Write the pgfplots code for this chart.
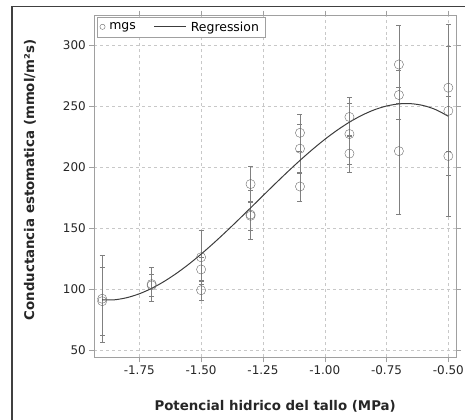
\documentclass[border=0pt]{standalone}
\usepackage{pgfplots}
\pgfplotsset{compat=1.18}
\usepackage{fontspec}
\setmainfont{DejaVu Sans}
\definecolor{grd}{HTML}{C8C8C8}
\definecolor{frm}{HTML}{A0A0A0}
\definecolor{pt}{HTML}{6A6A6A}
\definecolor{crv}{HTML}{3C3C3C}
\begin{document}
\begin{tikzpicture}
\useasboundingbox (-94.3bp,-62.7bp) rectangle (370.7bp,357.3bp);
\draw[color=black!75, line width=1.2bp] (-82.3bp,-62.7bp) -- (-82.3bp,350.6bp) -- (370.7bp,350.6bp);
\begin{axis}[
  scale only axis,
  width=361.7bp, height=341.6bp,
  xmin=-1.932, xmax=-0.469,
  ymin=44, ymax=324,
  xtick={-1.75,-1.5,-1.25,-1,-0.75,-0.5},
  xticklabels={-1.75,-1.50,-1.25,-1.00,-0.75,-0.50},
  ytick={50,100,150,200,250,300},
  /pgf/number format/assume math mode=true,
  tick label style={font=\fontsize{12}{14}\selectfont, text=black!85},
  tick align=outside,
  major tick length=5bp,
  tick style={color=frm, thin},
  axis line style={color=frm, line width=0.8pt},
  grid=major,
  major grid style={color=grd, dashed, thin},
  xlabel={Potencial hidrico del tallo (MPa)},
  ylabel={Conductancia estomatica (mmol/m²s)},
  label style={font=\bfseries\fontsize{13.4}{15}\selectfont, text=black!85},
  xlabel style={at={(axis description cs:0.5,-0.1426)}, anchor=center},
  ylabel style={at={(axis description cs:-0.1778,0.519)}, anchor=center},
  legend columns=2,
  legend style={at={(axis description cs:0.0075,0.996)}, anchor=north west,
    draw=frm, fill=white, font=\fontsize{12.5}{14}\selectfont, inner sep=2.5bp,
    nodes={inner xsep=4bp},
    /tikz/every even column/.append style={column sep=14bp}},
  legend cell align=left,
  clip=false,
]
\addplot[only marks, mark=o, mark size=4.6bp, color=pt, mark options={thin}, forget plot,
  error bars/.cd, y dir=both, y explicit,
  error bar style={color=pt!85, thin},
  error mark options={rotate=90, mark size=2.5bp, color=pt!85, thin}]
coordinates {
(-1.9,92) +- (0,36)
(-1.9,90) +- (0,28)
(-1.7,104) +- (0,14)
(-1.7,103) +- (0,9)
(-1.5,126) +- (0,22)
(-1.5,116) +- (0,10)
(-1.5,99) +- (0,8)
(-1.3,186) +- (0,15)
(-1.3,161) +- (0,20)
(-1.3,160) +- (0,12)
(-1.1,228) +- (0,15)
(-1.1,215) +- (0,20)
(-1.1,184) +- (0,12)
(-0.9,241) +- (0,16)
(-0.9,227) +- (0,25)
(-0.9,211) +- (0,15)
(-0.7,284) +- (0,32)
(-0.7,259) +- (0,20)
(-0.7,213) +- (0,52)
(-0.5,265) +- (0,52)
(-0.5,246) +- (0,53)
(-0.5,209) +- (0,49)
};
\addplot[color=crv, line width=1pt, smooth, no marks, forget plot] coordinates {
(-1.90,91.00) (-1.85,91.15) (-1.80,92.89) (-1.75,96.05) (-1.70,100.50)
(-1.65,106.12) (-1.60,112.76) (-1.55,120.28) (-1.50,128.56) (-1.45,137.45)
(-1.40,146.82) (-1.35,156.53) (-1.30,166.44) (-1.25,176.42) (-1.20,186.33)
(-1.15,196.04) (-1.10,205.41) (-1.05,214.30) (-1.00,222.58) (-0.95,230.10)
(-0.90,236.74) (-0.85,242.36) (-0.80,246.81) (-0.75,249.97) (-0.70,251.70)
(-0.65,251.86) (-0.60,250.31) (-0.55,246.92) (-0.50,241.56)
};
\addlegendimage{legend image code/.code={\draw[pt, thin] (6bp,0.4bp) circle (2.6bp);}}
\addlegendentry{mgs}
\addlegendimage{legend image code/.code={\draw[crv, line width=1pt] (0,0.4bp) -- (32bp,0.4bp);}}
\addlegendentry{Regression}
\end{axis}
\end{tikzpicture}
\end{document}
